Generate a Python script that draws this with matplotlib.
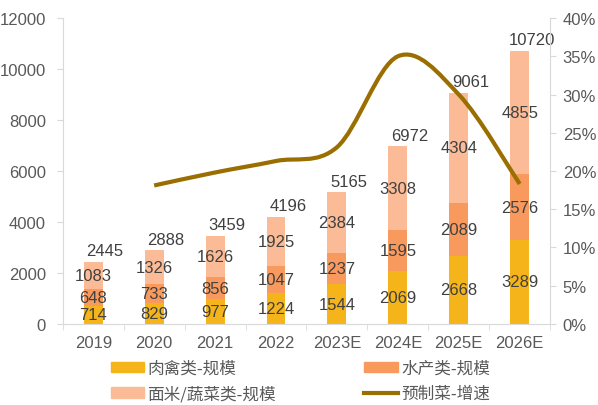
import matplotlib.pyplot as plt
import numpy as np
from matplotlib.path import Path
from matplotlib.patches import PathPatch
from matplotlib.lines import Line2D
from matplotlib.patches import Patch

plt.rcParams['font.family'] = ['Liberation Sans', 'Noto Sans CJK SC', 'DejaVu Sans']

years = ["2019", "2020", "2021", "2022", "2023E", "2024E", "2025E", "2026E"]
meat = [714, 829, 977, 1224, 1544, 2069, 2668, 3289]
aquatic = [648, 733, 856, 1047, 1237, 1595, 2089, 2576]
grain = [1083, 1326, 1626, 1925, 2384, 3308, 4304, 4855]
totals = [2445, 2888, 3459, 4196, 5165, 6972, 9061, 10720]
growth = [18.1, 19.8, 21.3, 23.1, 35.0, 30.0, 18.3]  # 2020 onwards, %

c_meat = "#F5B51A"
c_aqua = "#F89A5E"
c_grain = "#FBBB96"
c_line = "#9A6E00"
c_tick = "#595959"
c_lab = "#404040"
c_axis = "#D9D9D9"
fs = 12

fig = plt.figure(figsize=(5.98, 4.06), dpi=100)
ax = fig.add_axes([0.105, 0.2, 0.815, 0.753])
x = np.arange(len(years))
w = 0.31

b1 = np.array(meat)
b2 = b1 + np.array(aquatic)
ax.bar(x, meat, w, color=c_meat, zorder=2)
ax.bar(x, aquatic, w, bottom=b1, color=c_aqua, zorder=2)
ax.bar(x, grain, w, bottom=b2, color=c_grain, zorder=2)

for i in range(len(years)):
    ax.text(x[i], meat[i] / 2, str(meat[i]), ha='center', va='center', fontsize=fs, color=c_lab, zorder=4)
    ax.text(x[i], b1[i] + aquatic[i] / 2, str(aquatic[i]), ha='center', va='center', fontsize=fs, color=c_lab, zorder=4)
    ax.text(x[i], b2[i] + grain[i] / 2, str(grain[i]), ha='center', va='center', fontsize=fs, color=c_lab, zorder=4)
    ax.annotate(str(totals[i]), (x[i], totals[i]), xytext=(8.5, 8), textcoords='offset points',
                ha='center', va='center', fontsize=fs, color=c_lab, zorder=4)

ax.set_xlim(-0.5, len(years) - 0.5)
ax.set_ylim(0, 12000)
ax.set_yticks(range(0, 12001, 2000))
ax.set_xticks(x)
ax.set_xticklabels(years)
ax.set_xticks(np.arange(-0.5, len(years)), minor=True)
ax.tick_params(axis='x', which='major', length=0, pad=8, labelsize=fs, labelcolor=c_tick)
ax.tick_params(axis='x', which='minor', length=4, color=c_axis, direction='out')
ax.tick_params(axis='y', length=4, color=c_axis, labelsize=fs, labelcolor=c_tick, pad=8)
for s in ['top', 'right']:
    ax.spines[s].set_visible(False)
ax.spines['left'].set_color(c_axis)
ax.spines['bottom'].set_color(c_axis)

ax2 = ax.twinx()
ax2.set_ylim(0, 40)
ax2.set_yticks(range(0, 41, 5))
ax2.set_yticklabels([f"{v}%" for v in range(0, 41, 5)])
ax2.tick_params(axis='y', length=4, color=c_axis, labelsize=fs, labelcolor=c_tick, pad=5)
for s in ['top', 'left', 'bottom']:
    ax2.spines[s].set_visible(False)
ax2.spines['right'].set_color(c_axis)

# smoothed line (Excel-style bezier)
pts = np.column_stack([x[1:], growth]).astype(float)
n = len(pts)
verts = [pts[0]]
codes = [Path.MOVETO]
for i in range(n - 1):
    p0 = pts[i - 1] if i > 0 else pts[i]
    p1 = pts[i]
    p2 = pts[i + 1]
    p3 = pts[i + 2] if i + 2 < n else pts[i + 1]
    verts += [p1 + (p2 - p0) / 6, p2 - (p3 - p1) / 6, p2]
    codes += [Path.CURVE4] * 3
ax2.add_patch(PathPatch(Path(verts, codes), facecolor='none', edgecolor=c_line, lw=3,
                        capstyle='butt', zorder=3))

# legend filled column-wise: meat, grain | aquatic, growth
handles = [Patch(color=c_meat), Patch(color=c_grain), Patch(color=c_aqua),
           Line2D([], [], color=c_line, lw=3)]
labels = ["肉禽类-规模", "面米/蔬菜类-规模", "水产类-规模", "预制菜-增速"]
fig.legend(handles, labels, loc='lower left', bbox_to_anchor=(0.16, -0.03), ncol=2,
           frameon=False, handlelength=2.0, handleheight=0.6, handletextpad=0.2,
           columnspacing=5.3, labelspacing=0.5, labelcolor=c_tick,
           prop={'family': ['Noto Sans CJK SC', 'DejaVu Sans'], 'size': fs})

fig.savefig("out.png", dpi=100)
